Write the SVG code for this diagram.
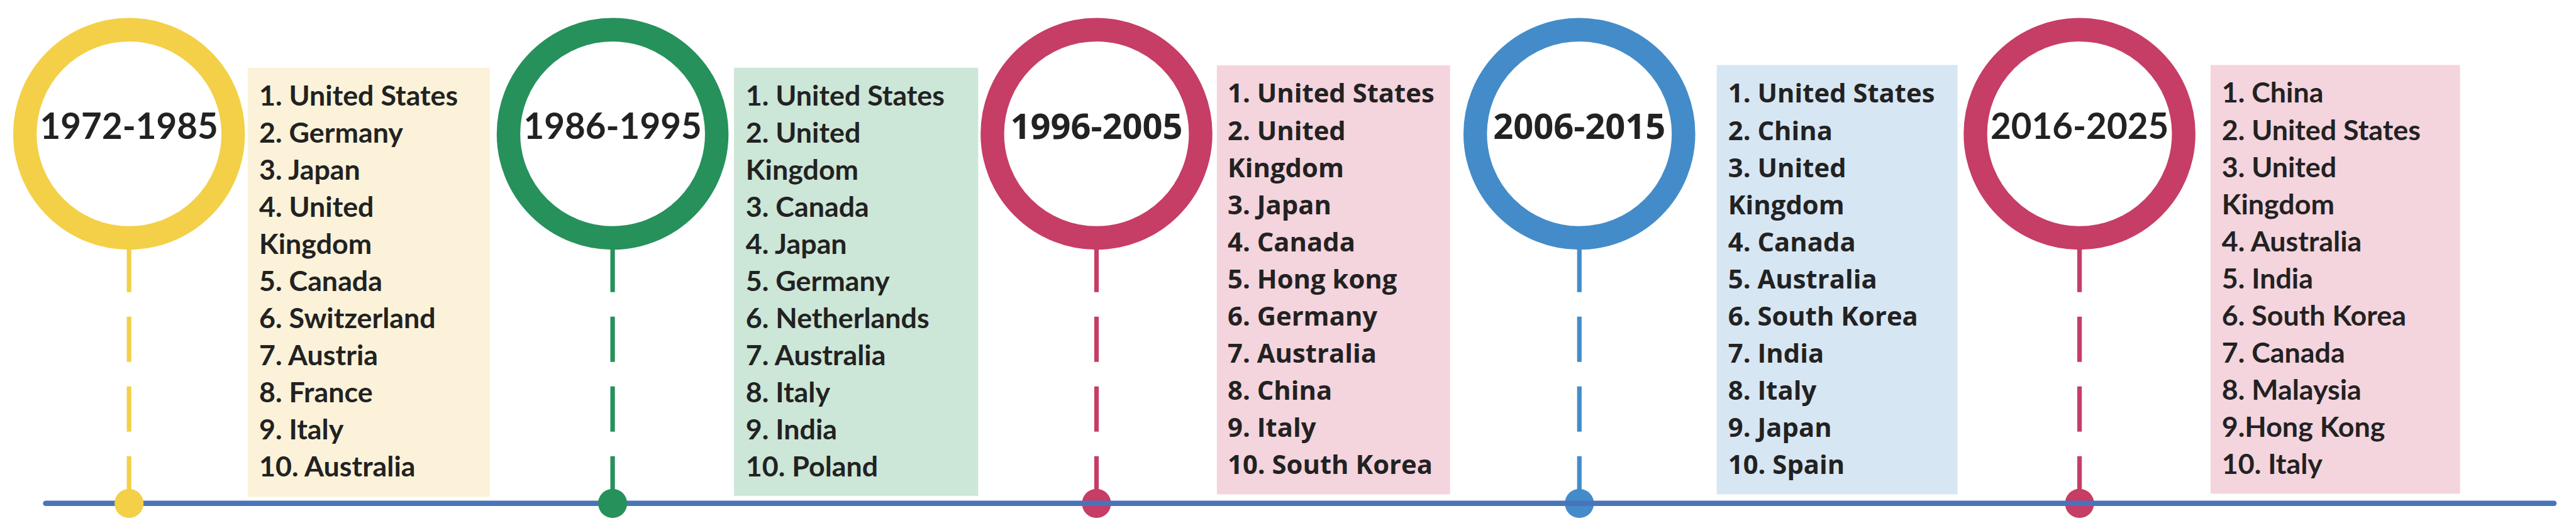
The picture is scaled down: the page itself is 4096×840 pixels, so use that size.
<svg xmlns="http://www.w3.org/2000/svg" width="4096" height="840" viewBox="0 0 4096 840">
<style>
  .ring{fill:none;stroke-width:37.4}
  .stem{fill:none;stroke-width:7.2;stroke-dasharray:72 39}
  .lbl{font-weight:700;fill:#222;text-anchor:middle}
  .calibri{font-family:Lato,"Open Sans","DejaVu Sans",sans-serif}
  .segoe{font-family:"Open Sans","Noto Sans","DejaVu Sans",sans-serif}
  .list{font-weight:700;fill:#222}
  .y{stroke:#F3D047}.yf{fill:#F3D047}.yb{fill:#FBF2D9}
  .g{stroke:#26915B}.gf{fill:#26915B}.gb{fill:#CCE6D7}
  .r{stroke:#C63D66}.rf{fill:#C63D66}.rb{fill:#F4D4DD}
  .b{stroke:#438CC9}.bf{fill:#438CC9}.bb{fill:#D7E6F3}
</style>
<rect width="4096" height="840" fill="#fff"/>

<g id="connectors">
  <line class="stem y" x1="205.2" y1="392.7" x2="205.2" y2="800.8"/>
  <line class="stem g" x1="974.1" y1="392.7" x2="974.1" y2="800.8"/>
  <line class="stem r" x1="1743.5" y1="392.7" x2="1743.5" y2="800.8"/>
  <line class="stem b" x1="2511.3" y1="392.7" x2="2511.3" y2="800.8"/>
  <line class="stem r" x1="3306.6" y1="392.7" x2="3306.6" y2="800.8"/>
</g>

<g id="period-1996-2005">
  <circle class="ring r" cx="1743.5" cy="212.9" r="165.6"/>
  <text class="lbl segoe" x="1743.5" y="221" font-size="56">1996-2005</text>
  <rect class="rb" x="1934.9" y="104" width="370.7" height="682.5"/>
  <g class="list segoe" font-size="41.8">
    <text x="1952" y="163.4">1. United States</text>
    <text x="1952" y="222.5">2. United</text>
    <text x="1952" y="281.6">Kingdom</text>
    <text x="1952" y="340.7">3. Japan</text>
    <text x="1952" y="399.8">4. Canada</text>
    <text x="1952" y="458.9">5. Hong kong</text>
    <text x="1952" y="518">6. Germany</text>
    <text x="1952" y="577.1">7. Australia</text>
    <text x="1952" y="636.2">8. China</text>
    <text x="1952" y="695.3">9. Italy</text>
    <text x="1952" y="754.4">10. South Korea</text>
  </g>
  <circle class="rf" cx="1743.5" cy="800.8" r="23.1"/>
</g>

<g id="period-2006-2015">
  <circle class="ring b" cx="2511.3" cy="212.9" r="165.6"/>
  <text class="lbl segoe" x="2511.3" y="221" font-size="56">2006-2015</text>
  <rect class="bb" x="2729.7" y="103.4" width="382.8" height="683.1"/>
  <g class="list segoe" font-size="41.8">
    <text x="2747.8" y="163.4">1. United States</text>
    <text x="2747.8" y="222.5">2. China</text>
    <text x="2747.8" y="281.6">3. United</text>
    <text x="2747.8" y="340.7">Kingdom</text>
    <text x="2747.8" y="399.8">4. Canada</text>
    <text x="2747.8" y="458.9">5. Australia</text>
    <text x="2747.8" y="518">6. South Korea</text>
    <text x="2747.8" y="577.1">7. India</text>
    <text x="2747.8" y="636.2">8. Italy</text>
    <text x="2747.8" y="695.3">9. Japan</text>
    <text x="2747.8" y="754.4">10. Spain</text>
  </g>
  <circle class="bf" cx="2511.3" cy="800.8" r="23.1"/>
</g>

<g id="period-2016-2025">
  <circle class="ring r" cx="3306.6" cy="212.9" r="165.6"/>
  <text class="lbl calibri" x="3306.6" y="221" font-size="56.5">2016-2025</text>
  <rect class="rb" x="3515" y="103.4" width="396.6" height="682"/>
  <g class="list calibri" font-size="44.8">
    <text x="3532.7" y="163.4">1. China</text>
    <text x="3532.7" y="222.5">2. United States</text>
    <text x="3532.7" y="281.6">3. United</text>
    <text x="3532.7" y="340.7">Kingdom</text>
    <text x="3532.7" y="399.8">4. Australia</text>
    <text x="3532.7" y="458.9">5. India</text>
    <text x="3532.7" y="518">6. South Korea</text>
    <text x="3532.7" y="577.1">7. Canada</text>
    <text x="3532.7" y="636.2">8. Malaysia</text>
    <text x="3532.7" y="695.3">9.Hong Kong</text>
    <text x="3532.7" y="754.4">10. Italy</text>
  </g>
  <circle class="rf" cx="3306.6" cy="800.8" r="23.1"/>
</g>

<g id="timeline">
  <line x1="72.6" y1="800.8" x2="4061" y2="800.8" stroke="#4A74BA" stroke-width="8.5" stroke-linecap="round"/>
</g>

<g id="period-1972-1985">
  <circle class="ring y" cx="205.2" cy="212.9" r="165.6"/>
  <text class="lbl calibri" x="205.2" y="221" font-size="56.5">1972-1985</text>
  <rect class="yb" x="393.8" y="107.8" width="385" height="682.6"/>
  <g class="list calibri" font-size="44.8">
    <text x="412" y="168.3">1. United States</text>
    <text x="412" y="227.3">2. Germany</text>
    <text x="412" y="286.3">3. Japan</text>
    <text x="412" y="345.3">4. United</text>
    <text x="412" y="404.3">Kingdom</text>
    <text x="412" y="463.3">5. Canada</text>
    <text x="412" y="522.3">6. Switzerland</text>
    <text x="412" y="581.3">7. Austria</text>
    <text x="412" y="640.3">8. France</text>
    <text x="412" y="699.3">9. Italy</text>
    <text x="412" y="758.3">10. Australia</text>
  </g>
  <circle class="yf" cx="205.2" cy="800.8" r="23.1"/>
</g>

<g id="period-1986-1995">
  <circle class="ring g" cx="974.1" cy="212.9" r="165.6"/>
  <text class="lbl calibri" x="974.1" y="221" font-size="56.5">1986-1995</text>
  <rect class="gb" x="1167.1" y="107.8" width="388.3" height="681"/>
  <g class="list calibri" font-size="44.8">
    <text x="1185.8" y="168.3">1. United States</text>
    <text x="1185.8" y="227.3">2. United</text>
    <text x="1185.8" y="286.3">Kingdom</text>
    <text x="1185.8" y="345.3">3. Canada</text>
    <text x="1185.8" y="404.3">4. Japan</text>
    <text x="1185.8" y="463.3">5. Germany</text>
    <text x="1185.8" y="522.3">6. Netherlands</text>
    <text x="1185.8" y="581.3">7. Australia</text>
    <text x="1185.8" y="640.3">8. Italy</text>
    <text x="1185.8" y="699.3">9. India</text>
    <text x="1185.8" y="758.3">10. Poland</text>
  </g>
  <circle class="gf" cx="974.1" cy="800.8" r="23.1"/>
</g>
</svg>
